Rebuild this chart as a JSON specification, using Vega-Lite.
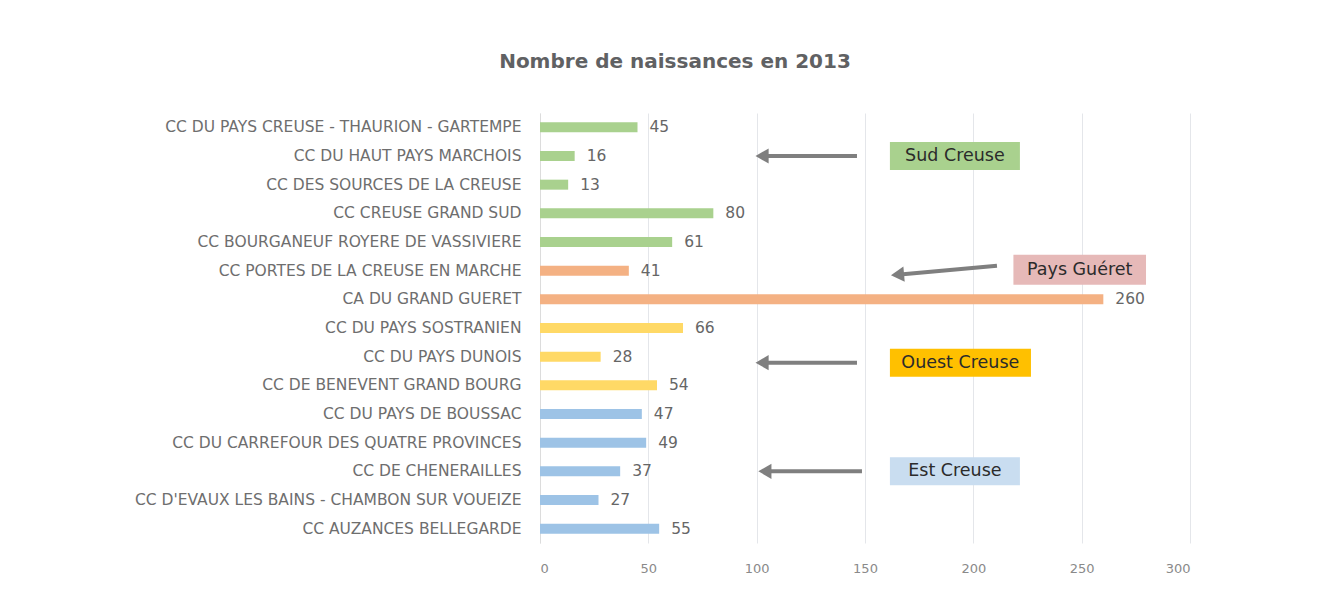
{
  "$schema": "https://vega.github.io/schema/vega-lite/v6.json",
  "width": 650,
  "height": 430,
  "padding": {"left": 100, "top": 52, "right": 20, "bottom": 10},
  "background": "white",
  "title": {
    "text": "Nombre de naissances en 2013",
    "font": "DejaVu Sans",
    "fontSize": 20,
    "fontWeight": "bold",
    "color": "#606163",
    "anchor": "middle",
    "dx": -190,
    "offset": 41
  },
  "config": {
    "view": {"stroke": null},
    "font": "DejaVu Sans"
  },
  "datasets": {
    "bars": [
      {"name": "CC DU PAYS CREUSE - THAURION - GARTEMPE", "value": 45, "zone": "Sud Creuse"},
      {"name": "CC DU HAUT PAYS MARCHOIS", "value": 16, "zone": "Sud Creuse"},
      {"name": "CC DES SOURCES DE LA CREUSE", "value": 13, "zone": "Sud Creuse"},
      {"name": "CC CREUSE GRAND SUD", "value": 80, "zone": "Sud Creuse"},
      {"name": "CC BOURGANEUF ROYERE DE VASSIVIERE", "value": 61, "zone": "Sud Creuse"},
      {"name": "CC PORTES DE LA CREUSE EN MARCHE", "value": 41, "zone": "Pays Guéret"},
      {"name": "CA DU GRAND GUERET", "value": 260, "zone": "Pays Guéret"},
      {"name": "CC DU PAYS SOSTRANIEN", "value": 66, "zone": "Ouest Creuse"},
      {"name": "CC DU PAYS DUNOIS", "value": 28, "zone": "Ouest Creuse"},
      {"name": "CC DE BENEVENT GRAND BOURG", "value": 54, "zone": "Ouest Creuse"},
      {"name": "CC DU PAYS DE BOUSSAC", "value": 47, "zone": "Est Creuse"},
      {"name": "CC DU CARREFOUR DES QUATRE PROVINCES", "value": 49, "zone": "Est Creuse"},
      {"name": "CC DE CHENERAILLES", "value": 37, "zone": "Est Creuse"},
      {"name": "CC D'EVAUX LES BAINS - CHAMBON SUR VOUEIZE", "value": 27, "zone": "Est Creuse"},
      {"name": "CC AUZANCES BELLEGARDE", "value": 55, "zone": "Est Creuse"}
    ],
    "boxes": [
      {"label": "Sud Creuse", "name": "CC DU HAUT PAYS MARCHOIS", "x1": 161.5, "x2": 221.5, "xm": 191.5, "a1": 146.3, "a2": 102.5},
      {"label": "Est Creuse", "name": "CC DE CHENERAILLES", "x1": 161.5, "x2": 221.5, "xm": 191.5, "a1": 148.6, "a2": 103.8}
    ],
    "ouest": [
      {"label": "Ouest Creuse", "name": "CC DU PAYS DUNOIS", "x1": 161.5, "x2": 226.6, "xm": 194.0, "a1": 146.3, "a2": 102.5}
    ],
    "gueret": [
      {"label": "Pays Guéret", "name": "CC PORTES DE LA CREUSE EN MARCHE", "x1": 218.5, "x2": 279.7, "xm": 249.1, "a1": 210.9, "a2": 165.0}
    ]
  },
  "layer": [
    {
      "data": {"name": "bars"},
      "mark": {"type": "bar", "size": 10},
      "encoding": {
        "y": {
          "field": "name", "type": "nominal", "sort": null, "title": null,
          "scale": {"paddingInner": 0.65, "paddingOuter": 0.325},
          "axis": {
            "labelFont": "DejaVu Sans", "labelFontSize": 15.5, "labelColor": "#6e6e6e",
            "ticks": false, "labelPadding": 19, "domain": true, "domainColor": "#dcdcdc",
            "minExtent": 440, "maxExtent": 440, "labelLimit": 500
          }
        },
        "x": {
          "field": "value", "type": "quantitative", "title": null,
          "scale": {"domain": [0, 300], "nice": false},
          "axis": {
            "values": [0, 50, 100, 150, 200, 250, 300],
            "labelFont": "DejaVu Sans", "labelFontSize": 13, "labelColor": "#8a8a8a",
            "ticks": false, "domain": false, "labelPadding": 19,
            "grid": true, "gridColor": "#e4e6ea", "gridWidth": 1
          }
        },
        "color": {
          "field": "zone", "type": "nominal", "legend": null,
          "scale": {
            "domain": ["Sud Creuse", "Pays Guéret", "Ouest Creuse", "Est Creuse"],
            "range": ["#a9d18e", "#f4b183", "#ffd966", "#9dc3e6"]
          }
        }
      }
    },
    {
      "data": {"name": "bars"},
      "mark": {"type": "text", "align": "left", "baseline": "middle", "dx": 12, "fontSize": 15.5, "color": "#666666", "font": "DejaVu Sans"},
      "encoding": {
        "y": {"field": "name", "type": "nominal", "sort": null},
        "x": {"field": "value", "type": "quantitative"},
        "text": {"field": "value", "type": "quantitative"}
      }
    },
    {
      "data": {"name": "boxes"},
      "layer": [
        {
          "mark": {"type": "bar", "size": 28},
          "encoding": {
            "y": {"field": "name", "type": "nominal", "sort": null},
            "x": {"field": "x1", "type": "quantitative"},
            "x2": {"field": "x2"},
            "color": {
              "field": "label", "type": "nominal", "legend": null,
              "scale": {"domain": ["Sud Creuse", "Est Creuse"], "range": ["#a9d18e", "#c9ddf0"]}
            }
          }
        },
        {
          "mark": {"type": "text", "fontSize": 17.5, "color": "#2b2b2b", "font": "DejaVu Sans", "baseline": "middle"},
          "encoding": {
            "y": {"field": "name", "type": "nominal", "sort": null},
            "x": {"field": "xm", "type": "quantitative"},
            "text": {"field": "label"}
          }
        },
        {
          "mark": {"type": "rule", "strokeWidth": 4, "color": "#7f7f7f"},
          "encoding": {
            "y": {"field": "name", "type": "nominal", "sort": null},
            "x": {"field": "a1", "type": "quantitative"},
            "x2": {"field": "a2"}
          }
        },
        {
          "mark": {"type": "point", "shape": "triangle-left", "filled": true, "size": 230, "color": "#7f7f7f", "opacity": 1},
          "encoding": {
            "y": {"field": "name", "type": "nominal", "sort": null},
            "x": {"field": "a2", "type": "quantitative"}
          }
        }
      ],
      "resolve": {"scale": {"color": "independent"}}
    },
    {
      "data": {"name": "ouest"},
      "layer": [
        {
          "mark": {"type": "bar", "size": 28, "yOffset": 6, "color": "#ffc000"},
          "encoding": {
            "y": {"field": "name", "type": "nominal", "sort": null},
            "x": {"field": "x1", "type": "quantitative"},
            "x2": {"field": "x2"}
          }
        },
        {
          "mark": {"type": "text", "fontSize": 17.5, "color": "#2b2b2b", "font": "DejaVu Sans", "baseline": "middle", "yOffset": 6},
          "encoding": {
            "y": {"field": "name", "type": "nominal", "sort": null},
            "x": {"field": "xm", "type": "quantitative"},
            "text": {"field": "label"}
          }
        },
        {
          "mark": {"type": "rule", "strokeWidth": 4, "color": "#7f7f7f", "yOffset": 6},
          "encoding": {
            "y": {"field": "name", "type": "nominal", "sort": null},
            "x": {"field": "a1", "type": "quantitative"},
            "x2": {"field": "a2"}
          }
        },
        {
          "mark": {"type": "point", "shape": "triangle-left", "filled": true, "size": 230, "color": "#7f7f7f", "opacity": 1, "yOffset": 6},
          "encoding": {
            "y": {"field": "name", "type": "nominal", "sort": null},
            "x": {"field": "a2", "type": "quantitative"}
          }
        }
      ]
    },
    {
      "data": {"name": "gueret"},
      "layer": [
        {
          "mark": {"type": "bar", "size": 30, "yOffset": -1, "color": "#e6b9b8"},
          "encoding": {
            "y": {"field": "name", "type": "nominal", "sort": null},
            "x": {"field": "x1", "type": "quantitative"},
            "x2": {"field": "x2"}
          }
        },
        {
          "mark": {"type": "text", "fontSize": 17.5, "color": "#2b2b2b", "font": "DejaVu Sans", "baseline": "middle", "yOffset": -1},
          "encoding": {
            "y": {"field": "name", "type": "nominal", "sort": null},
            "x": {"field": "xm", "type": "quantitative"},
            "text": {"field": "label"}
          }
        },
        {
          "mark": {"type": "rule", "strokeWidth": 4, "color": "#7f7f7f", "yOffset": -5, "y2Offset": 4},
          "encoding": {
            "y": {"field": "name", "type": "nominal", "sort": null},
            "y2": {"field": "name"},
            "x": {"field": "a1", "type": "quantitative"},
            "x2": {"field": "a2"}
          }
        },
        {
          "mark": {"type": "point", "shape": "triangle-left", "filled": true, "size": 230, "color": "#7f7f7f", "opacity": 1, "yOffset": 4, "angle": -5},
          "encoding": {
            "y": {"field": "name", "type": "nominal", "sort": null},
            "x": {"field": "a2", "type": "quantitative"}
          }
        }
      ]
    }
  ]
}
